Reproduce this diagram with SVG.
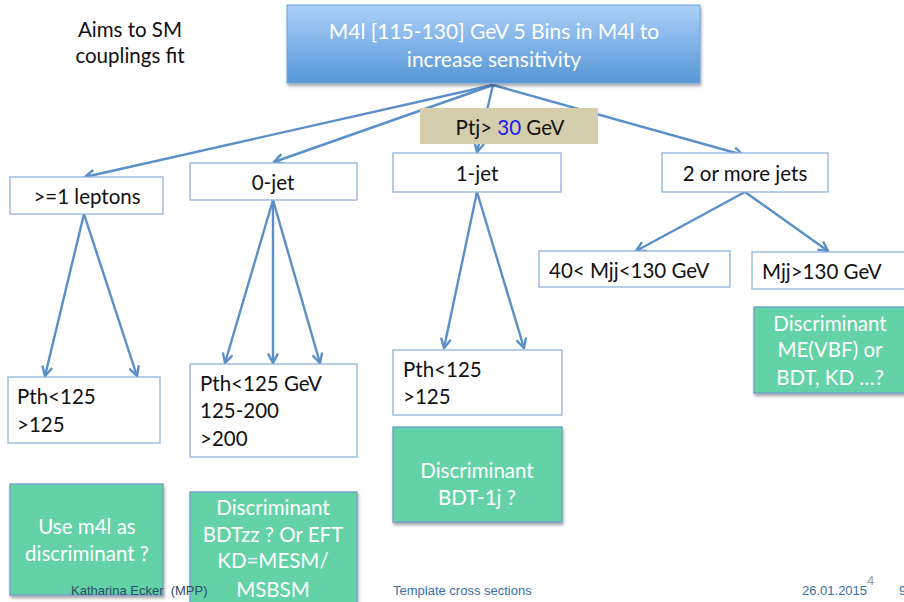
<svg xmlns="http://www.w3.org/2000/svg" width="904" height="602" viewBox="0 0 904 602">
<defs>
<linearGradient id="topGrad" x1="0" y1="0" x2="0" y2="1">
<stop offset="0" stop-color="#acd0f8"/>
<stop offset="1" stop-color="#5696d6"/>
</linearGradient>
<filter id="shadow" x="-10%" y="-10%" width="130%" height="130%">
<feDropShadow dx="1" dy="2.5" stdDeviation="1.5" flood-color="#000" flood-opacity="0.35"/>
</filter>
<marker id="arr" viewBox="0 0 12 12" refX="10.5" refY="6" markerWidth="12" markerHeight="12" markerUnits="userSpaceOnUse" orient="auto">
<path d="M1,1 L10.5,6 L1,11" fill="none" stroke="#5b8fc9" stroke-width="2.4" stroke-linejoin="miter"/>
</marker>
</defs>
<style>
.box{fill:#ffffff;stroke:#8fb2dc;stroke-width:1.3}
.green{fill:#64d3a7;stroke:#6d9cc8;stroke-width:1.3;filter:url(#shadow)}
.t{font-family:Lato,"Open Sans",sans-serif;font-size:20.5px;fill:#111}
.tc{font-family:Lato,"Open Sans",sans-serif;font-size:20.5px;fill:#111;text-anchor:middle}
.tw{font-family:Lato,"Open Sans",sans-serif;font-size:20.5px;fill:#ffffff;text-anchor:middle}
.big{font-size:21px}
.conn{stroke:#5b8fc9;stroke-width:2.4;fill:none;marker-end:url(#arr)}
.foot{font-family:"Liberation Sans",Arial,sans-serif;font-size:13px;white-space:pre}
</style>
<rect width="904" height="602" fill="#ffffff"/>

<g id="aims">
<text class="tc" x="130" y="37">Aims to SM</text>
<text class="tc" x="130" y="63">couplings fit</text>
</g>

<g id="connectors">
<line class="conn" x1="493" y1="85" x2="85" y2="177"/>
<line class="conn" x1="493" y1="85" x2="274" y2="162"/>
<line class="conn" x1="493" y1="85" x2="477" y2="152"/>
<line class="conn" x1="493" y1="85" x2="743" y2="155"/>
<line class="conn" x1="84" y1="214" x2="45" y2="376"/>
<line class="conn" x1="84" y1="214" x2="137" y2="376"/>
<line class="conn" x1="273" y1="200" x2="225" y2="363"/>
<line class="conn" x1="273" y1="200" x2="273" y2="363"/>
<line class="conn" x1="273" y1="200" x2="320" y2="363"/>
<line class="conn" x1="477" y1="192" x2="444" y2="348"/>
<line class="conn" x1="477" y1="192" x2="524" y2="348"/>
<line class="conn" x1="745" y1="192" x2="636" y2="251"/>
<line class="conn" x1="745" y1="192" x2="828" y2="251"/>
</g>

<g id="top">
<rect x="287" y="5" width="413" height="78" fill="url(#topGrad)" stroke="#6fa3dc" stroke-width="1" filter="url(#shadow)"/>
<text class="tw big" x="494" y="39">M4l [115-130] GeV 5 Bins in M4l to</text>
<text class="tw big" x="494" y="67">increase sensitivity</text>
</g>

<g id="ptj">
<rect x="420" y="108" width="178" height="36" fill="#d4ceac"/>
<text class="tc" x="510" y="135">Ptj&gt; <tspan fill="#1a1aee">30</tspan> GeV</text>
</g>

<g id="leptons">
<rect class="box" x="10" y="177" width="153" height="37"/>
<text class="tc" x="87" y="204">&gt;=1 leptons</text>
</g>

<g id="jet0">
<rect class="box" x="190" y="163" width="167" height="37"/>
<text class="tc" x="273" y="190">0-jet</text>
</g>

<g id="jet1">
<rect class="box" x="393" y="153" width="168" height="39"/>
<text class="tc" x="477" y="181">1-jet</text>
</g>

<g id="jet2">
<rect class="box" x="662" y="153" width="166" height="39"/>
<text class="tc" x="745" y="181">2 or more jets</text>
</g>

<g id="mjjlow">
<rect class="box" x="539" y="251" width="191" height="36"/>
<text class="t" x="549" y="278">40&lt; Mjj&lt;130 GeV</text>
</g>

<g id="mjjhigh">
<rect class="box" x="752" y="252" width="160" height="37"/>
<text class="t" x="762" y="279">Mjj&gt;130 GeV</text>
</g>

<g id="pth-lep">
<rect class="box" x="8" y="377" width="152" height="66"/>
<text class="t" x="17" y="404">Pth&lt;125</text>
<text class="t" x="17" y="432">&gt;125</text>
</g>

<g id="pth-0jet">
<rect class="box" x="190" y="364" width="167" height="93"/>
<text class="t" x="200" y="391">Pth&lt;125 GeV</text>
<text class="t" x="200" y="418">125-200</text>
<text class="t" x="200" y="446">&gt;200</text>
</g>

<g id="pth-1jet">
<rect class="box" x="393" y="350" width="169" height="65"/>
<text class="t" x="403" y="377">Pth&lt;125</text>
<text class="t" x="403" y="404">&gt;125</text>
</g>

<g id="disc-lep">
<rect class="green" x="10" y="484" width="153" height="111"/>
<text class="tw" x="87" y="534">Use m4l as</text>
<text class="tw" x="87" y="561">discriminant ?</text>
</g>

<g id="disc-0jet">
<rect class="green" x="190" y="492" width="167" height="120"/>
<text class="tw" x="273" y="515">Discriminant</text>
<text class="tw" x="273" y="542">BDTzz ? Or EFT</text>
<text class="tw" x="273" y="568">KD=MESM/</text>
<text class="tw" x="273" y="597">MSBSM</text>
</g>

<g id="disc-1jet">
<rect class="green" x="393" y="427" width="169" height="95"/>
<text class="tw" x="477" y="478">Discriminant</text>
<text class="tw" x="477" y="505">BDT-1j ?</text>
</g>

<g id="disc-vbf">
<rect class="green" x="754" y="307" width="160" height="86"/>
<text class="tw" x="830" y="331">Discriminant</text>
<text class="tw" x="830" y="357">ME(VBF) or</text>
<text class="tw" x="830" y="385">BDT, KD …?</text>
</g>

<g id="footer">
<text class="foot" x="71" y="595" fill="#2d4a66">Katharina Ecker  (MPP)</text>
<text class="foot" x="393" y="595" fill="#3a6fa8">Template cross sections</text>
<text class="foot" x="802" y="595" fill="#3a6fa8">26.01.2015</text>
<text class="foot" x="867" y="585" fill="#999999" font-size="11">4</text>
<text class="foot" x="899" y="595" fill="#3a6fa8">9</text>
</g>
</svg>
